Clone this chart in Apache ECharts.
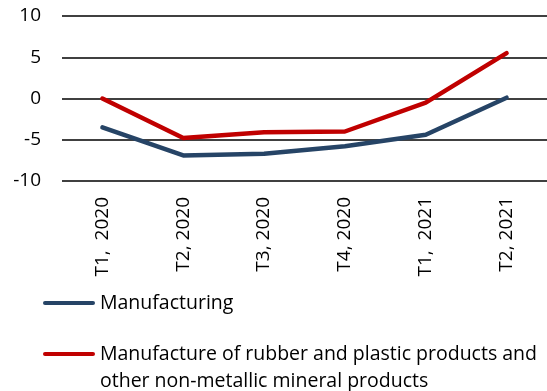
<!DOCTYPE html>
<html>
<head>
<meta charset="utf-8">
<style>
  html, body { margin: 0; padding: 0; background: #fff; }
  #chart { width: 547px; height: 391px; }
</style>
<script src="https://cdn.jsdelivr.net/npm/echarts@6/dist/echarts.min.js"></script>
</head>
<body>
<div id="chart"></div>
<script>
// Quarterly change, %
var categories = ['T1,  2020', 'T2, 2020', 'T3, 2020', 'T4, 2020', 'T1,  2021', 'T2, 2021'];
var manufacturing = [-3.5, -6.9, -6.7, -5.8, -4.4, 0.1];
var rubberPlastic = [0.0, -4.8, -4.1, -4.0, -0.5, 5.5];
var yTicks = { min: -10, max: 10, interval: 5 };

var nameManufacturing = 'Manufacturing';
var nameRubber = 'Manufacture of rubber and plastic products and\nother non-metallic mineral products';

var FONT = 'Open Sans';
var chart = echarts.init(document.getElementById('chart'));

var legendText = { fontFamily: FONT, fontSize: 19.5, color: '#000', lineHeight: 27 };
// rounded bar used as the legend key
var keyIcon = 'path://M2,0 L50,0 A2,2 0 0 1 50,4 L2,4 A2,2 0 0 1 2,0 Z';

chart.setOption({
  animation: false,
  grid: { left: 62, top: 16, width: 493, height: 165, containLabel: false },
  xAxis: {
    type: 'category',
    data: categories,
    boundaryGap: true,
    axisLine: { show: false },
    axisTick: { show: false },
    axisLabel: { rotate: 90, margin: 16, fontFamily: FONT, fontSize: 19, color: '#000' },
    splitLine: { show: false }
  },
  yAxis: {
    type: 'value',
    min: yTicks.min,
    max: yTicks.max,
    interval: yTicks.interval,
    axisLine: { show: false },
    axisTick: { show: false },
    axisLabel: { margin: 21, fontFamily: FONT, fontSize: 19, color: '#000' },
    splitLine: {
      lineStyle: {
        width: 1.5,
        color: function (v) { return v === 0 ? '#d9d9d9' : '#f0f0f0'; }
      }
    }
  },
  legend: [
    {
      data: [nameManufacturing],
      orient: 'vertical',
      left: 38,
      top: 284.5,
      icon: keyIcon,
      itemWidth: 52,
      itemHeight: 4.5,
      itemGap: 0,
      textStyle: legendText
    },
    {
      data: [nameRubber],
      orient: 'vertical',
      left: 38,
      top: 308.5,
      icon: keyIcon,
      itemWidth: 52,
      itemHeight: 4.5,
      itemGap: 0,
      // blank first line keeps the key level with the first text line
      formatter: function (n) { return ' \n' + n; },
      textStyle: legendText
    }
  ],
  series: [
    {
      name: nameManufacturing,
      type: 'line',
      data: manufacturing,
      symbol: 'none',
      lineStyle: { color: '#264466', width: 4.5, cap: 'round', join: 'round' },
      itemStyle: { color: '#264466' }
    },
    {
      name: nameRubber,
      type: 'line',
      data: rubberPlastic,
      symbol: 'none',
      lineStyle: { color: '#c00000', width: 4.5, cap: 'round', join: 'round' },
      itemStyle: { color: '#c00000' }
    }
  ]
});
</script>
</body>
</html>
